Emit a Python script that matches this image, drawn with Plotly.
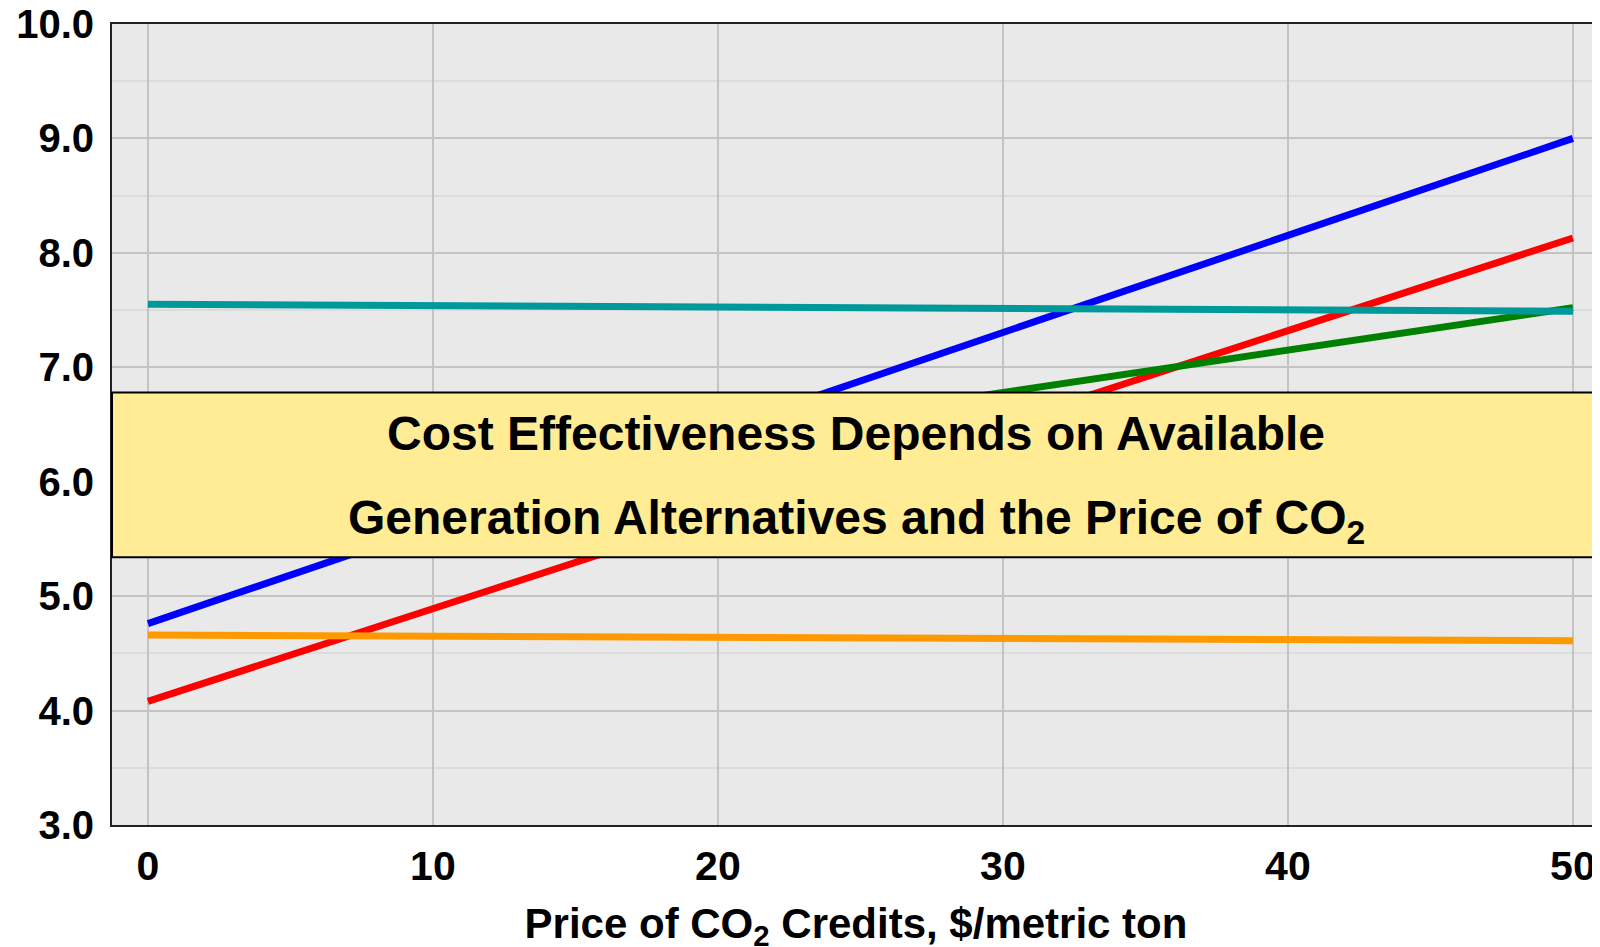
import plotly.graph_objects as go

# Data
co2_price = [0, 50]
blue_vals = [4.76, 9.00]
red_vals = [4.08, 8.13]
green_vals = [5.67, 7.52]
teal_vals = [7.55, 7.49]
orange_vals = [4.66, 4.61]

x_ticks = [0, 10, 20, 30, 40, 50]
y_ticks = [3, 4, 5, 6, 7, 8, 9, 10]
y_tick_text = ["3.0", "4.0", "5.0", "6.0", "7.0", "8.0", "9.0", "10.0"]

box_text_1 = "Cost Effectiveness Depends on Available"
box_text_2 = "Generation Alternatives and the Price of CO<sub>2</sub>"
x_title = "Price of CO<sub>2</sub> Credits, $/metric ton"

series = [
    ("Blue", blue_vals, "#0000FF"),
    ("Red", red_vals, "#FF0000"),
    ("Green", green_vals, "#008000"),
    ("Teal", teal_vals, "#009999"),
    ("Orange", orange_vals, "#FF9900"),
]

fig = go.Figure()
for name, vals, color in series:
    fig.add_trace(go.Scatter(x=co2_price, y=vals, mode="lines", name=name,
                             line=dict(color=color, width=7), showlegend=False))

bold = "Liberation Sans, Arial, sans-serif"

# page body has an 8px margin: margins compensate so the plot lands where the reference has it
fig.update_layout(
    width=1600, height=947,
    margin=dict(l=104, r=8, t=16, b=130, autoexpand=False),
    paper_bgcolor="white",
    plot_bgcolor="#E9E9E9",
    font=dict(family=bold, color="black"),
    xaxis=dict(
        range=[-1.26, 50.95], tickvals=x_ticks, ticks="",
        showgrid=True, gridcolor="#C3C3C3", gridwidth=2,
        showline=True, linecolor="#222222", linewidth=2, mirror=True,
        zeroline=False, automargin=False, ticklabeloverflow="allow",
        tickfont=dict(family=bold, size=41, color="black", weight="bold"),
        ticklabelstandoff=4,
        title=dict(text=x_title, font=dict(family=bold, size=42, color="black", weight="bold"),
                   standoff=20),
    ),
    yaxis=dict(
        range=[3, 10], tickvals=y_ticks, ticktext=y_tick_text, ticks="",
        showgrid=True, gridcolor="#C3C3C3", gridwidth=2,
        minor=dict(dtick=0.5, showgrid=True, gridcolor="#DCDCDC", gridwidth=2),
        showline=True, linecolor="#222222", linewidth=2,
        zeroline=False, automargin=False, ticklabeloverflow="allow",
        tickfont=dict(family=bold, size=40, color="black", weight="bold"),
        ticklabelstandoff=8,
    ),
)

fig.add_shape(type="rect", xref="paper", yref="y", x0=0, x1=1.01, y0=5.34, y1=6.78,
              fillcolor="#FFEC94", line=dict(color="black", width=2), layer="above")

fig.add_annotation(xref="paper", yref="y", x=0.5, y=6.42, text=box_text_1, showarrow=False,
                   font=dict(family=bold, size=48, color="black", weight="bold"),
                   xanchor="center", yanchor="middle")
fig.add_annotation(xref="paper", yref="y", x=0.5, y=5.66, text=box_text_2, showarrow=False,
                   font=dict(family=bold, size=48, color="black", weight="bold"),
                   xanchor="center", yanchor="middle")

fig.write_html("out.html")
